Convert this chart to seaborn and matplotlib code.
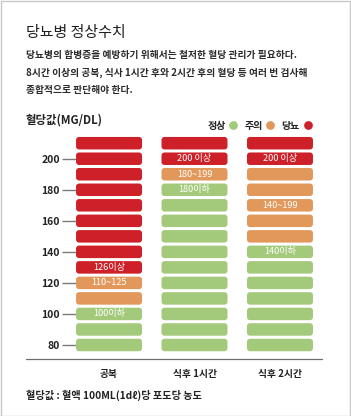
import numpy as np
import pandas as pd
import matplotlib

matplotlib.use('Agg')
import matplotlib.pyplot as plt
from matplotlib.path import Path
from matplotlib.lines import Line2D
from matplotlib.patches import Rectangle
import seaborn as sns

sns.set_theme(style="white")
plt.rcParams['font.family'] = ['Noto Sans CJK KR', 'DejaVu Sans']

# ==========================================
# 데이터
# ==========================================
columns = ['공복', '식후 1시간', '식후 2시간']
levels = [80, 90, 100, 110, 120, 130, 140, 150, 160, 170, 180, 190, 200, 210]

status_fasting = ['정상', '정상', '정상', '주의', '주의', '당뇨', '당뇨',
                  '당뇨', '당뇨', '당뇨', '당뇨', '당뇨', '당뇨', '당뇨']
status_1h = ['정상', '정상', '정상', '정상', '정상', '정상', '정상',
             '정상', '정상', '정상', '정상', '주의', '당뇨', '당뇨']
status_2h = ['정상', '정상', '정상', '정상', '정상', '정상', '정상',
             '주의', '주의', '주의', '주의', '주의', '당뇨', '당뇨']

label_cols = ['공복', '공복', '공복', '식후 1시간', '식후 1시간', '식후 1시간', '식후 2시간', '식후 2시간', '식후 2시간']
label_levels = [100, 120, 130, 180, 190, 200, 140, 170, 200]
label_texts = ['100이하', '110~125', '126이상', '180이하', '180~199', '200 이상', '140이하', '140~199', '200 이상']

tick_values = [80, 100, 120, 140, 160, 180, 200]
legend_names = ['정상', '주의', '당뇨']
palette = {'정상': '#A3C97A', '주의': '#E2985B', '당뇨': '#CD2028'}

df = pd.DataFrame({
    'col': np.repeat(columns, len(levels)),
    'level': levels * 3,
    'status': status_fasting + status_1h + status_2h,
})


# 둥근 모서리 사각형 마커 (px 단위 비율)
def rounded_box(w, h, r, n=8):
    pts = []
    corners = [(w / 2 - r, h / 2 - r, 0), (-w / 2 + r, h / 2 - r, 90),
               (-w / 2 + r, -h / 2 + r, 180), (w / 2 - r, -h / 2 + r, 270)]
    for cx, cy, a0 in corners:
        t = np.radians(np.linspace(a0, a0 + 90, n))
        pts += list(zip(cx + r * np.cos(t), cy + r * np.sin(t)))
    pts.append(pts[0])
    return Path(pts, closed=True)


cell_w = 66
box = rounded_box(cell_w, 12.5, 3)
cell_size = (cell_w * 0.72) ** 2

# ==========================================
# 그림
# ==========================================
fig = plt.figure(figsize=(3.51, 4.16), dpi=100)
ax = fig.add_axes([76 / 351, 1 - 357.4 / 416, (322.7 - 76) / 351, (357.4 - 133.9) / 416])

sns.scatterplot(data=df, x='col', y='level', hue='status', palette=palette,
                marker=box, s=cell_size, linewidth=0, legend=False, ax=ax, zorder=2)

for c, lv, t in zip(label_cols, label_levels, label_texts):
    ax.text(columns.index(c), lv, t, ha='center', va='center', color='white',
            fontsize=6.6, zorder=3)

ax.set_xlim(-0.3866, 2.5)
ax.set_ylim(72, 216)
ax.set_xticks(range(len(columns)), columns)
ax.set_yticks(tick_values)
ax.set_xlabel('')
ax.set_ylabel('')
for s in ax.spines.values():
    s.set_visible(False)
ax.tick_params(axis='y', length=10, width=1, color='#7a7a7a', pad=1.5,
               labelsize=7.5, labelcolor='#222222', left=True)
ax.tick_params(axis='x', length=0, pad=8.4, labelsize=7, labelcolor='#222222')
for lab in ax.get_xticklabels():
    lab.set_fontweight('bold')
for lab in ax.get_yticklabels():
    lab.set_fontweight(600)

# 범례
handles = [Line2D([], [], marker='o', linestyle='', markersize=6.3,
                  markerfacecolor=palette[n], markeredgewidth=0) for n in legend_names]
ax.legend(handles, legend_names, ncol=3, markerfirst=False, frameon=False,
          loc='center right', bbox_to_anchor=(312 / 351, 1 - 125.7 / 416),
          bbox_transform=fig.transFigure, handletextpad=0.3, columnspacing=0.7,
          handlelength=0.9, borderpad=0, borderaxespad=0,
          prop={'weight': 'bold', 'size': 7.2})

# 텍스트
fig.text(26 / 351, 1 - 32.5 / 416, '당뇨병 정상수치', fontsize=10.8, color='#1e1e1e',
         va='center', fontweight=500)
desc = ['당뇨병의 합병증을 예방하기 위해서는 철저한 혈당 관리가 필요하다.',
        '8시간 이상의 공복, 식사 1시간 후와 2시간 후의 혈당 등 여러 번 검사해',
        '종합적으로 판단해야 한다.']
for i, line in enumerate(desc):
    fig.text(26 / 351, 1 - (55 + 17.4 * i) / 416, line, fontsize=7, color='#2a2a2a',
             va='center', fontweight=600)
fig.text(26 / 351, 1 - 120 / 416, '혈당값(MG/DL)', fontsize=8.2, fontweight='bold',
         color='#222222', va='center')
fig.text(26 / 351, 1 - 395 / 416, '혈당값 : 혈액 100ML(1dℓ)당 포도당 농도', fontsize=7.3,
         color='#222222', va='center', fontweight=600)

# 하단 선, 테두리
fig.add_artist(Line2D([26 / 351, 322 / 351], [1 - 359.3 / 416, 1 - 359.3 / 416],
                      color='#6e6e6e', lw=0.9))
fig.add_artist(Rectangle((0.5 / 351, 0.5 / 416), 349.5 / 351, 414.5 / 416,
                         transform=fig.transFigure, fill=False, edgecolor='#c8c8c8', lw=1))

fig.savefig('out.png', dpi=100)
